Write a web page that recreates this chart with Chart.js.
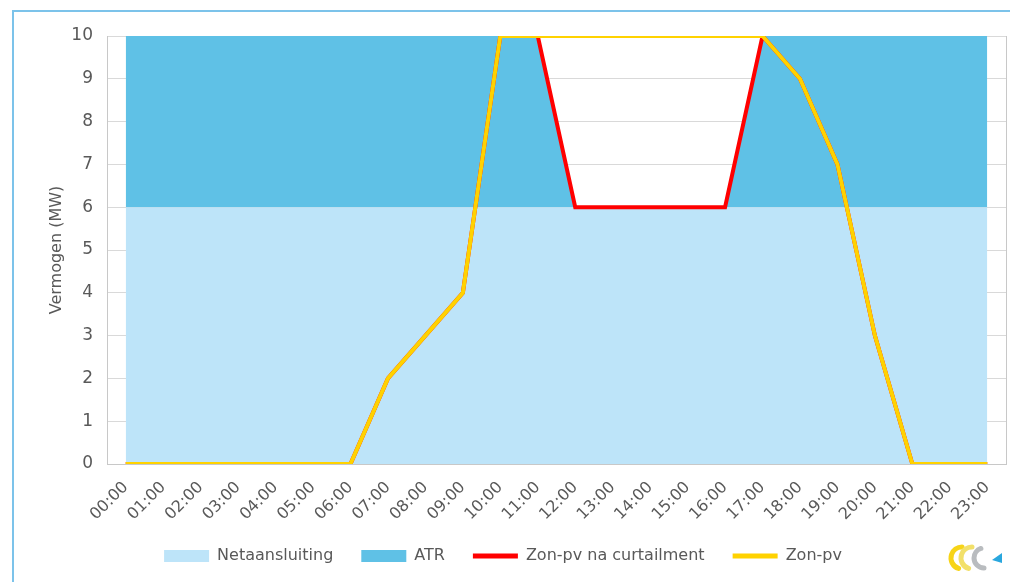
<!DOCTYPE html>
<html>
<head>
<meta charset="utf-8">
<script src="https://cdn.jsdelivr.net/npm/chart.js@4.4.1/dist/chart.umd.min.js"></script>
<style>
  body { margin: 0; background: #fff; overflow: hidden; }
  #frame { position: absolute; left: 12px; top: 10px; width: 1100px; height: 700px; border: 2px solid #7cc3ea; box-sizing: border-box; }
  #wrap { position: absolute; left: 0; top: 0; width: 1010px; height: 582px; }
</style>
</head>
<body>
<div id="frame"></div>
<div id="wrap"><canvas id="chart"></canvas></div>
<script>
// hourly values, MW
var hours = ['00:00','01:00','02:00','03:00','04:00','05:00','06:00','07:00','08:00','09:00','10:00','11:00',
             '12:00','13:00','14:00','15:00','16:00','17:00','18:00','19:00','20:00','21:00','22:00','23:00'];
var netaansluiting = [6,6,6,6,6,6,6,6,6,6,6,6,6,6,6,6,6,6,6,6,6,6,6,6];
var atr            = [4,4,4,4,4,4,4,4,4,4,4,4,0,0,0,0,0,4,4,4,4,4,4,4];
var zonPvCurtail   = [0,0,0,0,0,0,0,2,3,4,10,10,6,6,6,6,6,10,9,7,3,0,0,0];
var zonPv          = [0,0,0,0,0,0,0,2,3,4,10,10,10,10,10,10,10,10,9,7,3,0,0,0];

var txt = '#595959';
var fontFam = '"DejaVu Sans", Verdana, sans-serif';

// small logo bottom right
var logo = {
    id: 'logo',
    afterDraw: function (chart) {
        var c = chart.ctx;
        c.save();
        c.lineCap = 'round';
        c.strokeStyle = '#f7d417';
        c.lineWidth = 5;
        c.beginPath(); c.arc(962, 558, 11, Math.PI * 0.6, Math.PI * 1.5); c.stroke();
        c.strokeStyle = '#f2e06a';
        c.beginPath(); c.arc(972, 558, 11, Math.PI * 0.6, Math.PI * 1.5); c.stroke();
        c.strokeStyle = '#b9bcbf';
        c.beginPath(); c.arc(984, 558, 10, Math.PI * 0.5, Math.PI * 1.4); c.stroke();
        c.fillStyle = '#2aa7de';
        c.beginPath(); c.moveTo(992, 560); c.lineTo(1002, 553); c.lineTo(1002, 563); c.closePath(); c.fill();
        c.restore();
    }
};

var chart = new Chart(document.getElementById('chart'), {
    type: 'line',
    plugins: [logo],
    data: {
        labels: hours,
        datasets: [
            { label: 'Netaansluiting', data: netaansluiting, stack: 'grid', order: 2,
              borderWidth: 0, borderColor: 'transparent', backgroundColor: '#bde4f9', pointRadius: 0, fill: 'origin', tension: 0 },
            { label: 'ATR', data: atr, stack: 'grid', order: 3,
              borderWidth: 0, borderColor: 'transparent', backgroundColor: '#5fc1e6', pointRadius: 0, fill: '-1', tension: 0 },
            { label: 'Zon-pv na curtailment', data: zonPvCurtail, stack: 'cur', order: 1,
              borderColor: '#ff0000', backgroundColor: '#ff0000', borderWidth: 4, pointRadius: 0, fill: false, tension: 0 },
            { label: 'Zon-pv', data: zonPv, stack: 'pv', order: 0,
              borderColor: '#ffd200', backgroundColor: '#ffd200', borderWidth: 4, pointRadius: 0, fill: false, tension: 0 }
        ]
    },
    options: {
        responsive: true,
        maintainAspectRatio: false,
        animation: false,
        layout: { padding: { top: 36, right: 4, bottom: 8, left: 0 } },
        plugins: {
            tooltip: { enabled: false },
            legend: {
                position: 'bottom',
                labels: {
                    usePointStyle: true,
                    pointStyleWidth: 45,
                    boxHeight: 12,
                    padding: 28,
                    color: txt,
                    font: { family: fontFam, size: 16 },
                    generateLabels: function (ch) {
                        return ch.data.datasets.map(function (ds, i) {
                            var isLine = ds.fill === false;
                            return {
                                text: ds.label,
                                datasetIndex: i,
                                fillStyle: ds.backgroundColor,
                                strokeStyle: isLine ? ds.borderColor : ds.backgroundColor,
                                lineWidth: isLine ? 5 : 0,
                                pointStyle: isLine ? 'line' : 'rect',
                                fontColor: txt,
                                hidden: false
                            };
                        });
                    }
                }
            }
        },
        scales: {
            x: {
                offset: true,
                grid: { display: false },
                border: { color: '#c8c8c8' },
                ticks: { color: txt, font: { family: fontFam, size: 16 }, minRotation: 45, maxRotation: 45, autoSkip: false, padding: 6 },
                afterFit: function (s) { s.height = 56; }
            },
            y: {
                stacked: true,
                min: 0, max: 10,
                z: 1,
                grid: { color: 'rgba(0,0,0,0.15)', drawTicks: false },
                border: { color: '#c8c8c8' },
                ticks: { stepSize: 1, color: txt, font: { family: fontFam, size: 17 }, padding: 14 },
                title: { display: true, text: 'Vermogen (MW)', color: txt, font: { family: fontFam, size: 16 }, padding: { top: 47, bottom: 0 } },
                afterFit: function (s) { s.width = 107; }
            },
            y2: {
                position: 'right',
                min: 0, max: 10,
                grid: { drawOnChartArea: false, drawTicks: false },
                border: { color: '#c8c8c8' },
                ticks: { display: false },
                afterFit: function (s) { s.width = 0; }
            }
        }
    }
});
</script>
</body>
</html>
